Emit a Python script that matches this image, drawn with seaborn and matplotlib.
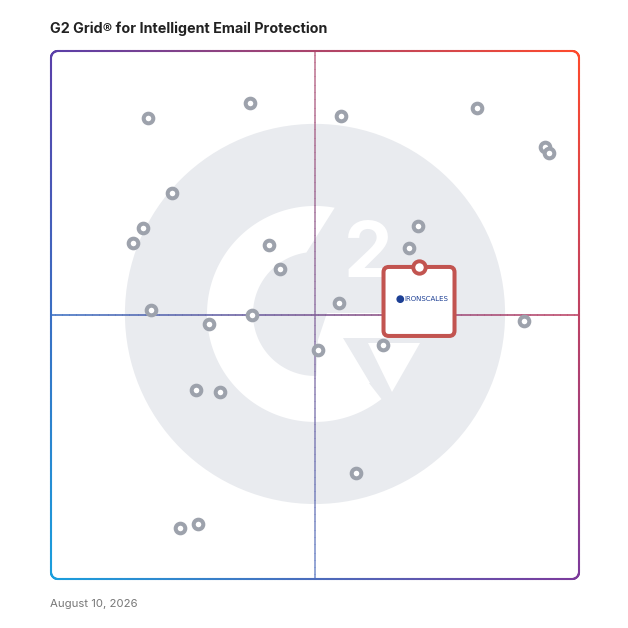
import numpy as np
import pandas as pd
import matplotlib.pyplot as plt
import seaborn as sns
from matplotlib.collections import LineCollection
from matplotlib.patches import Circle, Polygon, FancyBboxPatch
from matplotlib.colors import to_rgb

# grid position of every vendor (0-100 on both axes, 50 = quadrant split)
vendor_x = [18.4, 37.7, 54.9, 80.7, 93.6, 94.3, 22.9, 17.4, 15.5, 41.3, 43.4, 69.5, 67.8,
            54.5, 18.9, 29.9, 38.1, 50.6, 62.9, 89.6, 27.5, 32.0, 57.8, 24.4, 27.8]
vendor_y = [87.3, 90.2, 87.7, 89.2, 81.8, 80.7, 73.1, 66.5, 63.6, 63.3, 58.7, 66.9, 62.7,
            52.3, 50.9, 48.3, 50.0, 43.4, 44.3, 48.9, 35.8, 35.4, 20.1, 9.7, 10.4]

featured_name = "IRONSCALES"
featured_x = [69.7]
featured_y = [59.1]

title = "G2 Grid® for Intelligent Email Protection"
date_label = "August 10, 2026"

sns.set_theme(style="white")
plt.rcParams['font.family'] = ['Inter', 'DejaVu Sans']

fig = plt.figure(figsize=(6.28, 6.28), dpi=100)
ax = fig.add_axes([51 / 628, 49 / 628, 528 / 628, 528 / 628])
ax.set_xlim(0, 100)
ax.set_ylim(0, 100)
ax.axis("off")

PX = 5.28  # pixels per grid unit


def px(xp, yp):
    return ((xp - 51) / PX, (579 - yp) / PX)


# corner colours of the gradient frame
TL, TR = np.array(to_rgb("#5a3fa9")), np.array(to_rgb("#ff4a2c"))
BL, BR = np.array(to_rgb("#1a9fdd")), np.array(to_rgb("#7c3a9c"))


def grad(u, v):
    top = TL * (1 - u) + TR * u
    bot = BL * (1 - u) + BR * u
    return top * v + bot * (1 - v)


def grad_lines(pts, lw, alpha=1.0, z=3):
    segs = np.stack([pts[:-1], pts[1:]], axis=1)
    mid = segs.mean(axis=1) / 100
    cols = [(*grad(np.clip(u, 0, 1), np.clip(v, 0, 1)), alpha) for u, v in mid]
    lc = LineCollection(segs, colors=cols, linewidths=lw, capstyle="round",
                        zorder=z, clip_on=False)
    ax.add_collection(lc)


def rounded_rect(x0, y0, x1, y1, r):
    t = np.linspace(0, 1, 200)
    a = np.linspace(0, np.pi / 2, 20)
    pts = []
    pts += list(zip(x0 + r + (x1 - x0 - 2 * r) * t, np.full_like(t, y0)))
    pts += list(zip(x1 - r + r * np.sin(a), y0 + r - r * np.cos(a)))
    pts += list(zip(np.full_like(t, x1), y0 + r + (y1 - y0 - 2 * r) * t))
    pts += list(zip(x1 - r + r * np.cos(a), y1 - r + r * np.sin(a)))
    pts += list(zip(x1 - r - (x1 - x0 - 2 * r) * t, np.full_like(t, y1)))
    pts += list(zip(x0 + r - r * np.sin(a), y1 - r + r * np.cos(a)))
    pts += list(zip(np.full_like(t, x0), y1 - r - (y1 - y0 - 2 * r) * t))
    pts += list(zip(x0 + r - r * np.cos(a), y0 + r - r * np.sin(a)))
    pts.append(pts[0])
    return np.array(pts)


# G2 watermark
cx, cy = 50, 50.2
ax.add_patch(Circle((cx, cy), 36.0, color="#e9ebef", lw=0, zorder=0))
ro, ri = 108 / PX, 62 / PX
ao = np.radians(np.linspace(79.5, 308, 150))
ai = np.radians(np.linspace(308, 98, 150))
ring = np.vstack([np.c_[cx + ro * np.cos(ao), cy + ro * np.sin(ao)],
                  np.c_[cx + ri * np.cos(ai), cy + ri * np.sin(ai)]])
ax.add_patch(Polygon(ring, closed=True, color="white", lw=0, zorder=1))
bar = [px(327, 313), px(420, 313), px(420, 338), px(343, 338),
       px(370, 383), px(316, 383), px(318, 340)]
ax.add_patch(Polygon(bar, closed=True, color="white", lw=0, zorder=1))
tri = [px(368, 343), px(420, 343), px(392, 392)]
ax.add_patch(Polygon(tri, closed=True, color="white", lw=0, zorder=1))
ax.text(*px(368, 277), "2", fontsize=56, fontweight="bold", color="white",
        ha="center", va="baseline", zorder=1)

# quadrant lines and frame
t = np.linspace(0, 100, 300)
grad_lines(np.c_[np.full_like(t, 50), t], 1.1, alpha=0.6, z=2)
grad_lines(np.c_[t, np.full_like(t, 50)], 1.1, alpha=0.9, z=2)
grad_lines(rounded_rect(0, 0, 100, 100, 1.3), 1.5, z=3)

# vendors
df = pd.DataFrame({"x": vendor_x, "y": vendor_y})
sns.scatterplot(data=df, x="x", y="y", ax=ax, s=48, color="white",
                edgecolor="#9da2ac", linewidth=2.9, zorder=4, legend=False)

# featured vendor callout
fx, fy = featured_x[0], featured_y[0]
bw, bh = 71 / PX, 69 / PX
ax.add_patch(FancyBboxPatch((fx - bw / 2, fy - bh), bw, bh,
                            boxstyle="round,pad=0,rounding_size=1.0",
                            fc="white", ec="#c25450", lw=2.9, zorder=5))
ax.add_patch(Circle((fx - 3.55, fy - 6.1), 0.6, color="#1c3f94", zorder=6))
ax.text(fx - 2.75, fy - 6.1, featured_name, fontsize=5.0, color="#1c3f94",
        family="DejaVu Sans", ha="left", va="center", zorder=6)
fdf = pd.DataFrame({"x": featured_x, "y": featured_y})
sns.scatterplot(data=fdf, x="x", y="y", ax=ax, s=80, color="white",
                edgecolor="#c25450", linewidth=2.8, zorder=7, legend=False)

fig.text(50 / 628, 1 - 29 / 628, title, fontsize=10.3, fontweight="bold",
         color="#222222", ha="left", va="center")
fig.text(50 / 628, 1 - 604 / 628, date_label, fontsize=8.2, color="#777777",
         ha="left", va="center")

fig.savefig("out.png", dpi=100)
